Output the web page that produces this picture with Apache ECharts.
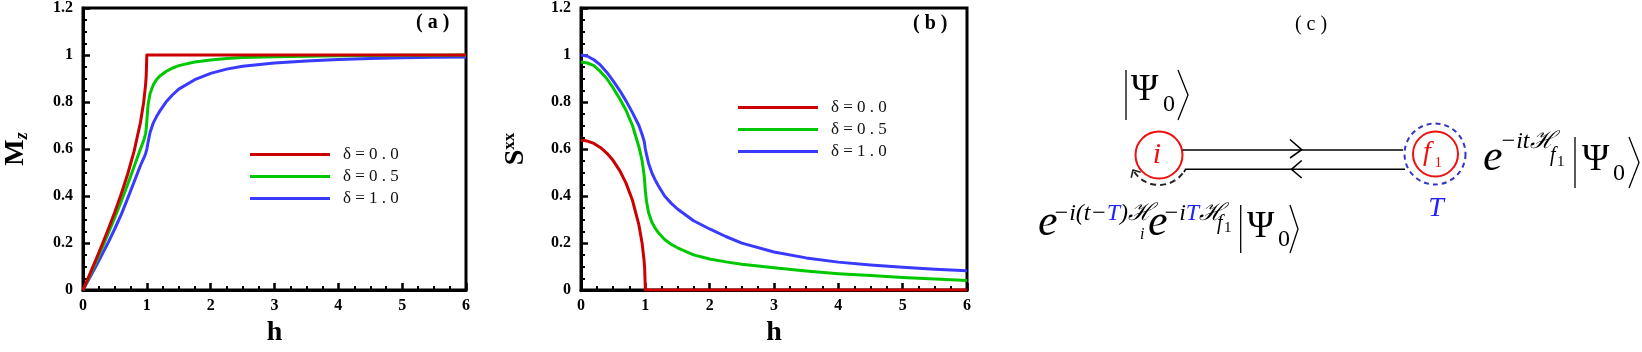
<!DOCTYPE html>
<html>
<head>
<meta charset="utf-8">
<script src="https://cdn.jsdelivr.net/npm/echarts@6/dist/echarts.min.js"></script>
<style>
  html, body { margin: 0; padding: 0; background: #fff; }
  #chart { width: 1642px; height: 352px; }
</style>
</head>
<body>
<div id="chart"></div>
<script>
// Mz and Sxx versus field h for three anisotropies, plus a small quench diagram
const FF = "'Liberation Serif','DejaVu Serif',serif";

const deltaNames = ['δ = 0 . 0', 'δ = 0 . 5', 'δ = 1 . 0'];
const lineColors = ['#cc0000', '#00c800', '#3a3aff'];

const hValues = [0, 0.1, 0.2, 0.3, 0.4, 0.5, 0.6, 0.7, 0.8, 0.9, 0.95, 0.98, 0.99, 1,
  1.02, 1.05, 1.1, 1.15, 1.2, 1.3, 1.4, 1.5, 1.75, 2, 2.25, 2.5, 3, 3.5, 4, 4.5, 5, 5.5, 6];

// panel (a): Mz
const mzDelta00 = [0, 0.064, 0.128, 0.194, 0.262, 0.333, 0.41, 0.494, 0.59, 0.713, 0.798, 0.872, 0.91, 1,
  1, 1, 1, 1, 1, 1, 1, 1, 1, 1, 1, 1, 1, 1, 1, 1, 1, 1, 1];
const mzDelta05 = [0, 0.058, 0.118, 0.18, 0.244, 0.31, 0.378, 0.45, 0.525, 0.6, 0.635, 0.665, 0.685, 0.72,
  0.79, 0.835, 0.872, 0.895, 0.91, 0.93, 0.944, 0.955, 0.97, 0.979, 0.985, 0.989, 0.993, 0.995, 0.997, 0.998, 0.999, 0.999, 1.0];
const mzDelta10 = [0, 0.05, 0.1, 0.152, 0.205, 0.262, 0.322, 0.39, 0.46, 0.53, 0.56, 0.58, 0.59, 0.6,
  0.63, 0.67, 0.71, 0.737, 0.76, 0.8, 0.83, 0.855, 0.895, 0.922, 0.94, 0.952, 0.966, 0.975, 0.981, 0.985, 0.988, 0.99, 0.992];

// panel (b): Sxx
const sxxDelta00 = [0.637, 0.634, 0.624, 0.607, 0.583, 0.551, 0.509, 0.455, 0.382, 0.277, 0.199, 0.127, 0.09, 0,
  0, 0, 0, 0, 0, 0, 0, 0, 0, 0, 0, 0, 0, 0, 0, 0, 0, 0, 0];
const sxxDelta05 = [0.97, 0.966, 0.955, 0.93, 0.9, 0.86, 0.815, 0.765, 0.7, 0.61, 0.55, 0.49, 0.46, 0.42,
  0.375, 0.33, 0.29, 0.265, 0.245, 0.215, 0.195, 0.18, 0.15, 0.132, 0.12, 0.11, 0.095, 0.081, 0.07, 0.062, 0.054, 0.047, 0.041];
const sxxDelta10 = [1.0, 0.995, 0.98, 0.958, 0.927, 0.89, 0.85, 0.805, 0.755, 0.7, 0.662, 0.635, 0.62, 0.6,
  0.575, 0.54, 0.5, 0.47, 0.445, 0.4, 0.37, 0.345, 0.295, 0.26, 0.228, 0.2, 0.162, 0.137, 0.119, 0.107, 0.097, 0.089, 0.082];

const chart = echarts.init(document.getElementById('chart'));

function makeSeries(idx, values, k) {
  return {
    name: deltaNames[k],
    type: 'line',
    xAxisIndex: idx,
    yAxisIndex: idx,
    data: hValues.map((h, i) => [h, values[i]]),
    showSymbol: false,
    smooth: false,
    lineStyle: { color: lineColors[k], width: 3, join: 'round' },
    itemStyle: { color: lineColors[k] },
    z: 3 - k
  };
}

function xAxisOf(idx) {
  return {
    gridIndex: idx, type: 'value', min: 0, max: 6, interval: 1,
    name: 'h', nameLocation: 'middle', nameGap: 21,
    nameTextStyle: { fontFamily: FF, fontWeight: 'bold', fontSize: 28, color: '#000' },
    axisLine: { lineStyle: { color: '#000', width: 3 } },
    axisTick: { inside: true, length: 7, lineStyle: { color: '#000', width: 2.5 } },
    minorTick: { show: true, splitNumber: 4, length: 4, lineStyle: { color: '#000', width: 2 } },
    axisLabel: { fontFamily: FF, fontWeight: 'bold', fontSize: 16, color: '#000', margin: 8 },
    splitLine: { show: false }
  };
}

function yAxisOf(idx, name, rich, gap) {
  return {
    gridIndex: idx, type: 'value', min: 0, max: 1.2, interval: 0.2,
    name: name, nameLocation: 'middle', nameGap: gap, nameRotate: 90,
    nameTextStyle: { fontFamily: FF, color: '#000', rich: rich },
    axisLine: { lineStyle: { color: '#000', width: 3 } },
    axisTick: { inside: true, length: 7, lineStyle: { color: '#000', width: 2.5 } },
    minorTick: { show: true, splitNumber: 4, length: 4, lineStyle: { color: '#000', width: 2 } },
    axisLabel: { fontFamily: FF, fontWeight: 'bold', fontSize: 16, color: '#000', margin: 10 },
    splitLine: { show: false }
  };
}

function legendAt(left, top) {
  return {
    data: deltaNames, orient: 'vertical', left: left, top: top, padding: 0,
    icon: 'rect', itemWidth: 80, itemHeight: 3, itemGap: 5,
    selectedMode: false,
    textStyle: { fontFamily: FF, fontSize: 17, color: '#111', lineHeight: 16, padding: [0, 0, 0, 8] }
  };
}

// ---- diagram helpers (panel c) ----
function txt(s, x, base, size, o) {
  o = o || {};
  const font = (o.italic ? 'italic ' : '') + (o.bold ? 'bold ' : '') + size + 'px ' + FF;
  const style = {
    text: s, font: font, fill: o.color || '#000',
    align: o.align || 'left', textAlign: o.align || 'left',
    verticalAlign: 'middle', textVerticalAlign: 'middle'
  };
  if (o.rich) style.rich = o.rich;
  return { type: 'text', x: x, y: base - 0.34 * size, style: style, z: 10 };
}
function pline(points, w, color, dash) {
  return {
    type: 'polyline', shape: { points: points },
    style: { stroke: color || '#000', lineWidth: w || 1.5, fill: 'none', lineDash: dash || null }, z: 10
  };
}
function ring(cx, cy, r, color, w, dash) {
  return {
    type: 'circle', shape: { cx: cx, cy: cy, r: r },
    style: { stroke: color, lineWidth: w, fill: 'none', lineDash: dash || null }, z: 10
  };
}
function ket(xBar, top, bottom, psiX, zeroX, psiBase, zeroBase, brA, brB) {
  const mid = (top + bottom) / 2;
  return [
    pline([[xBar, top], [xBar, bottom]], 1.3),
    txt('Ψ', psiX, psiBase, 37),
    txt('0', zeroX, zeroBase, 24),
    pline([[brA, top], [brB, mid], [brA, bottom]], 1.3)
  ];
}

const BLUE_T = '#2323ff';
const supRich = (size) => ({
  a: { font: 'italic ' + size + 'px ' + FF, fill: '#000' },
  b: { font: 'italic ' + size + 'px ' + FF, fill: BLUE_T }
});

// dashed return arc with arrowhead around site i
const ci = { x: 1159, y: 155 };
const arcR = 30, arcEnd = 150 * Math.PI / 180;
const tip = [ci.x + arcR * Math.cos(arcEnd), ci.y + arcR * Math.sin(arcEnd)];
const dir = [-Math.sin(arcEnd), Math.cos(arcEnd)];
function rot(v, a) { return [v[0] * Math.cos(a) - v[1] * Math.sin(a), v[0] * Math.sin(a) + v[1] * Math.cos(a)]; }
const back = [-dir[0], -dir[1]];
const l1 = rot(back, 0.75), l2 = rot(back, -0.75);

const diagram = [
  txt('( a )', 416, 30, 20, { bold: true }),
  txt('( b )', 913, 31, 20, { bold: true }),
  txt('( c )', 1311, 32, 20, { align: 'center' }),

  // top ket
  ...ket(1126, 70, 120, 1131, 1163, 103, 113, 1178, 1188),

  // site i
  ring(ci.x, ci.y, 23.5, '#ee1111', 2),
  txt('i', 1157, 165, 30, { italic: true, color: '#ee1111', align: 'center' }),
  {
    type: 'arc',
    shape: { cx: ci.x, cy: ci.y, r: arcR, startAngle: 38 * Math.PI / 180, endAngle: 146 * Math.PI / 180, clockwise: true },
    style: { stroke: '#222', lineWidth: 2, fill: 'none', lineDash: [6, 4] }, z: 10
  },
  pline([[tip[0] + 8 * l1[0], tip[1] + 8 * l1[1]], tip, [tip[0] + 8 * l2[0], tip[1] + 8 * l2[1]]], 1.6, '#222'),

  // two paths between sites
  pline([[1182.5, 150], [1403, 150]], 1.6),
  pline([[1184, 172], [1185.5, 169.3], [1405, 169.3]], 1.6),
  pline([[1290, 139.5], [1301.7, 149.7], [1290, 158]], 1.6),
  pline([[1301.7, 160.5], [1291.5, 169.3], [1301.7, 178]], 1.6),

  // site f1 at time T
  ring(1435, 154, 30.5, '#3434c8', 2, [5, 4]),
  ring(1435.5, 154, 22.5, '#ee1111', 2),
  txt('f', 1423, 162, 28, { italic: true, color: '#ee1111' }),
  txt('1', 1434.5, 168, 15, { color: '#ee1111' }),
  txt('T', 1436, 218, 28, { italic: true, color: BLUE_T, align: 'center' }),

  // right expression e^{-it H_f1}|Psi0>
  txt('e', 1483, 173, 44, { italic: true }),
  txt('−itℋ', 1500, 150, 24, { italic: true }),
  txt('f', 1550, 163, 20, { italic: true }),
  txt('1', 1557, 167, 15),
  ...ket(1575, 137, 188, 1582, 1613, 173, 182, 1629, 1639),

  // bottom expression
  txt('e', 1038, 238, 44, { italic: true }),
  txt('{a|−i(t−}{b|T}{a|)ℋ}', 1053, 222, 24, { italic: true, rich: supRich(24) }),
  txt('i', 1140, 240, 16, { italic: true }),
  txt('e', 1148, 238, 44, { italic: true }),
  txt('{a|−i}{b|T}{a|ℋ}', 1163, 222, 24, { italic: true, rich: supRich(24) }),
  txt('f', 1217, 231, 20, { italic: true }),
  txt('1', 1224, 233, 15),
  ...ket(1240.7, 205, 253, 1247, 1278, 240, 248, 1290, 1298)
];

const option = {
  animation: false,
  backgroundColor: '#fff',
  grid: [
    { left: 80, top: 5, width: 386, height: 303, show: true, borderColor: '#000', borderWidth: 3 },
    { left: 581, top: 5, width: 386, height: 303, show: true, borderColor: '#000', borderWidth: 3 }
  ],
  xAxis: [xAxisOf(0), xAxisOf(1)],
  yAxis: [
    yAxisOf(0, '{m|M}{z|z}', {
      m: { fontFamily: FF, fontWeight: 'bold', fontSize: 28, lineHeight: 28 },
      z: { fontFamily: FF, fontWeight: 'bold', fontStyle: 'italic', fontSize: 18, lineHeight: 18, padding: [12, 0, 0, 0] }
    }, 53),
    yAxisOf(1, '{s|S}{x|xx}', {
      s: { fontFamily: FF, fontWeight: 'bold', fontSize: 28, lineHeight: 28 },
      x: { fontFamily: FF, fontWeight: 'bold', fontSize: 17, lineHeight: 17, padding: [0, 0, 12, 0] }
    }, 51)
  ],
  legend: [legendAt(250, 146), legendAt(738, 99)],
  series: [
    makeSeries(0, mzDelta00, 0),
    makeSeries(0, mzDelta05, 1),
    makeSeries(0, mzDelta10, 2),
    makeSeries(1, sxxDelta00, 0),
    makeSeries(1, sxxDelta05, 1),
    makeSeries(1, sxxDelta10, 2)
  ],
  graphic: { elements: diagram }
};

chart.setOption(option);
</script>
</body>
</html>
